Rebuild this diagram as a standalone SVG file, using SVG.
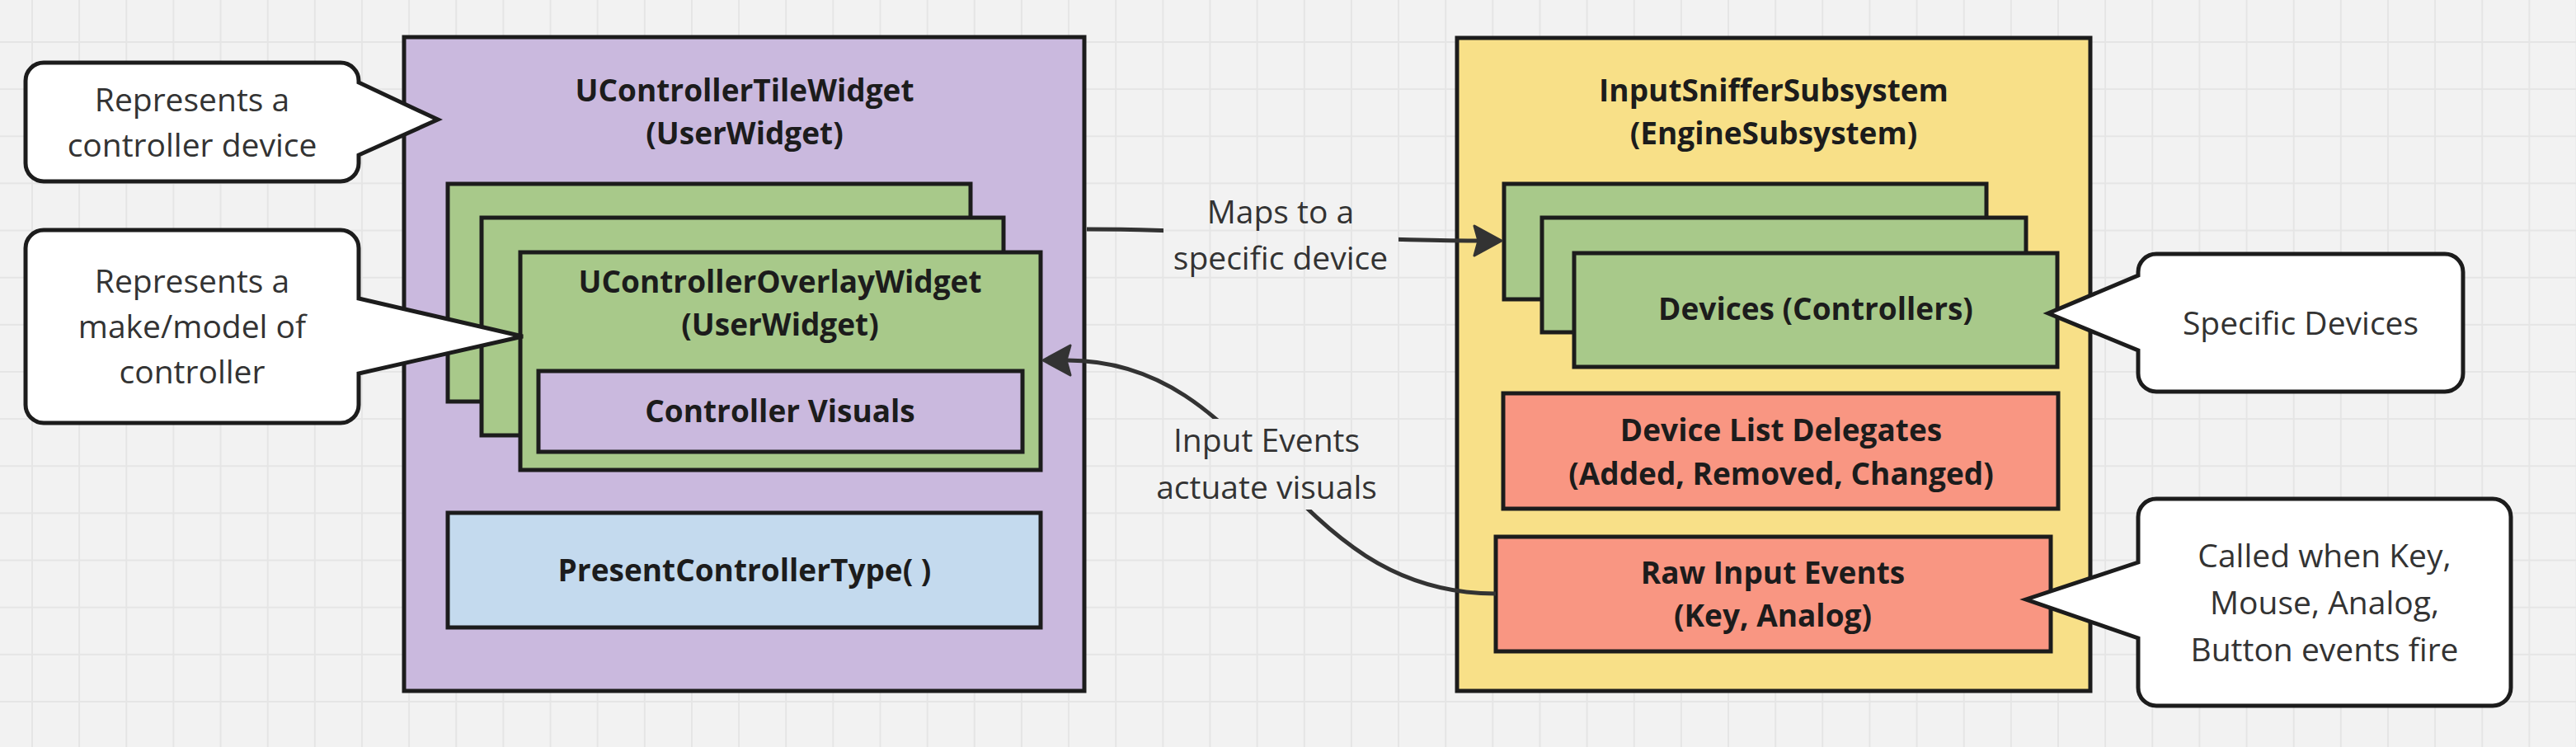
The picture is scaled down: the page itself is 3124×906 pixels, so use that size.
<svg xmlns="http://www.w3.org/2000/svg" width="3124" height="906" viewBox="0 0 3124 906">
<style>
.box{stroke:#1c1c1c;stroke-width:5}
.purple{fill:#cab9de}
.green{fill:#a8c98a}
.yellow{fill:#f8e088}
.salmon{fill:#f99682}
.blue{fill:#c4daee}
.callout{fill:#ffffff;stroke:#1c1c1c;stroke-width:5;stroke-linejoin:miter}
.b{font-family:"Open Sans","Liberation Sans",sans-serif;font-weight:700;font-size:37px;fill:#1c1c1c;text-anchor:middle}
.r{font-family:"Open Sans","Liberation Sans",sans-serif;font-weight:400;font-size:39px;fill:#333333;text-anchor:middle}
.conn{fill:none;stroke:#333333;stroke-width:5}
</style>
<defs>
<pattern id="grid" x="38" y="50" width="57.14" height="57.14" patternUnits="userSpaceOnUse">
<path d="M0,1 H57.14 M1,0 V57.14" stroke="#e5e5e5" stroke-width="2" fill="none"/>
</pattern>
<marker id="arrow" viewBox="0 0 40 40" markerUnits="userSpaceOnUse" markerWidth="40" markerHeight="40" refX="7" refY="20" orient="auto">
<path d="M36,20 L3,2 L8,20 L3,38 Z" fill="#333333" stroke="#333333" stroke-width="3" stroke-linejoin="round"/>
</marker>
<mask id="gap" maskUnits="userSpaceOnUse" x="0" y="0" width="3124" height="906">
<rect x="0" y="0" width="3124" height="906" fill="#ffffff"/>
<rect x="1411" y="235" width="285" height="100" fill="#000000"/>
<rect x="1380" y="508" width="310" height="110" fill="#000000"/>
</mask>
</defs>
<rect x="0" y="0" width="3124" height="906" fill="#f2f2f2"/>
<rect x="0" y="0" width="3124" height="906" fill="url(#grid)"/>

<g id="tile-widget">
<rect class="box purple" x="490" y="45" width="825" height="793"/>
<text class="b" x="903" y="123">UControllerTileWidget</text>
<text class="b" x="903" y="175">(UserWidget)</text>
</g>
<g id="overlay-stack">
<rect class="box green" x="543" y="223" width="634" height="264"/>
<rect class="box green" x="584" y="264" width="633" height="264"/>
<rect class="box green" x="631" y="306" width="631" height="264"/>
<text class="b" x="946" y="355">UControllerOverlayWidget</text>
<text class="b" x="946" y="407">(UserWidget)</text>
</g>
<g id="controller-visuals">
<rect class="box purple" x="653" y="450" width="587" height="98"/>
<text class="b" x="946" y="512">Controller Visuals</text>
</g>
<g id="present-controller-type">
<rect class="box blue" x="543" y="622" width="719" height="139"/>
<text class="b" x="903" y="705">PresentControllerType( )</text>
</g>

<g id="input-sniffer-subsystem">
<rect class="box yellow" x="1767" y="46" width="768" height="792"/>
<text class="b" x="2151" y="123">InputSnifferSubsystem</text>
<text class="b" x="2151" y="175">(EngineSubsystem)</text>
</g>
<g id="devices">
<rect class="box green" x="1824" y="223" width="585" height="140"/>
<rect class="box green" x="1870" y="264" width="587" height="139"/>
<rect class="box green" x="1909" y="307" width="586" height="138"/>
<text class="b" x="2202" y="388">Devices (Controllers)</text>
</g>
<g id="device-list-delegates">
<rect class="box salmon" x="1823" y="477" width="673" height="140"/>
<text class="b" x="2160" y="535">Device List Delegates</text>
<text class="b" x="2160" y="588">(Added, Removed, Changed)</text>
</g>
<g id="raw-input-events">
<rect class="box salmon" x="1814" y="651" width="673" height="139"/>
<text class="b" x="2150" y="708">Raw Input Events</text>
<text class="b" x="2150" y="760">(Key, Analog)</text>
</g>

<g id="connectors">
<path class="conn" mask="url(#gap)" marker-end="url(#arrow)" d="M1318,278 C1486,278 1624,292 1792,292"/>
<path class="conn" mask="url(#gap)" marker-end="url(#arrow)" d="M1814,720 C1560,720 1530,437 1294,437"/>
<text class="r" x="1553" y="271">Maps to a</text>
<text class="r" x="1553" y="327">specific device</text>
<text class="r" x="1536" y="548">Input Events</text>
<text class="r" x="1536" y="605">actuate visuals</text>
</g>

<g id="callout-controller-device">
<path class="callout" d="M53,76 H413 A22,22 0 0 1 435,98 V100 L531,145 L435,188 V198 A22,22 0 0 1 413,220 H53 A22,22 0 0 1 31,198 V98 A22,22 0 0 1 53,76 Z"/>
<text class="r" x="233" y="135">Represents a</text>
<text class="r" x="233" y="190">controller device</text>
</g>
<g id="callout-make-model">
<path class="callout" d="M53,279 H413 A22,22 0 0 1 435,301 V362 L634,408 L435,453 V491 A22,22 0 0 1 413,513 H53 A22,22 0 0 1 31,491 V301 A22,22 0 0 1 53,279 Z"/>
<text class="r" x="233" y="355">Represents a</text>
<text class="r" x="233" y="410">make/model of</text>
<text class="r" x="233" y="465">controller</text>
</g>
<g id="callout-specific-devices">
<path class="callout" d="M2615,308 H2965 A22,22 0 0 1 2987,330 V453 A22,22 0 0 1 2965,475 H2615 A22,22 0 0 1 2593,453 V425 L2484,380 L2593,334 V330 A22,22 0 0 1 2615,308 Z"/>
<text class="r" x="2790" y="406">Specific Devices</text>
</g>
<g id="callout-raw-events">
<path class="callout" d="M2615,605 H3023 A22,22 0 0 1 3045,627 V834 A22,22 0 0 1 3023,856 H2615 A22,22 0 0 1 2593,834 V774 L2457,727 L2593,682 V627 A22,22 0 0 1 2615,605 Z"/>
<text class="r" x="2819" y="688">Called when Key,</text>
<text class="r" x="2819" y="745">Mouse, Analog,</text>
<text class="r" x="2819" y="802">Button events fire</text>
</g>
</svg>
